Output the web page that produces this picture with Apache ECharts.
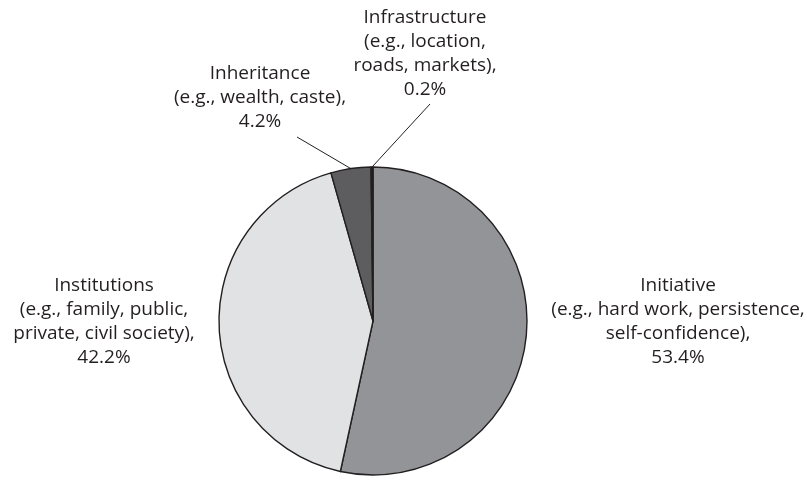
<!DOCTYPE html>
<html>
<head>
<meta charset="utf-8">
<script src="https://cdn.jsdelivr.net/npm/echarts@6/dist/echarts.min.js"></script>
<style>
  html, body { margin: 0; padding: 0; background: #fff; }
  #chart { width: 807px; height: 480px; }
</style>
</head>
<body>
<div id="chart"></div>
<script>
// data
const categories = ['Initiative', 'Institutions', 'Inheritance', 'Infrastructure']
const examples = [
  '(e.g., hard work, persistence,\nself-confidence),',
  '(e.g., family, public,\nprivate, civil society),',
  '(e.g., wealth, caste),',
  '(e.g., location,\nroads, markets),'
]
const shares = [53.4, 42.2, 4.2, 0.2]
const sliceColors = ['#939497', '#e1e2e4', '#5d5d5f', '#231f20']

// where each label block sits (center x, center y)
const labelSpots = [
  [678, 322],
  [104, 322],
  [260, 98],
  [425, 54]
]
// where the leader line meets the label (only the small slices have one)
const lineEnds = [null, null, [297, 137], [430, 104]]

const chart = echarts.init(document.getElementById('chart'))

chart.setOption({
  animation: false,
  series: [{
    type: 'pie',
    center: [373, 321],
    radius: 154,
    startAngle: 90,
    clockwise: true,
    avoidLabelOverlap: false,
    itemStyle: { borderColor: '#231f20', borderWidth: 1.4 },
    label: {
      show: true,
      position: 'outside',
      formatter: p => `${p.name}\n${examples[p.dataIndex]}\n${p.value.toFixed(1)}%`,
      fontFamily: 'Open Sans',
      fontSize: 19,
      lineHeight: 24,
      color: '#231f20',
      align: 'center'
    },
    labelLine: {
      show: true,
      length: 0,
      length2: 0,
      smooth: false,
      lineStyle: { color: '#231f20', width: 1 }
    },
    labelLayout: p => {
      const i = p.dataIndex
      const out = {
        x: labelSpots[i][0],
        y: labelSpots[i][1],
        align: 'center',
        verticalAlign: 'middle'
      }
      if (lineEnds[i] && p.labelLinePoints && p.labelLinePoints.length) {
        out.labelLinePoints = [p.labelLinePoints[0], lineEnds[i]]
      }
      return out
    },
    data: categories.map((name, i) => ({
      name,
      value: shares[i],
      itemStyle: { color: sliceColors[i] },
      labelLine: { show: i >= 2 }
    }))
  }]
})
</script>
</body>
</html>
